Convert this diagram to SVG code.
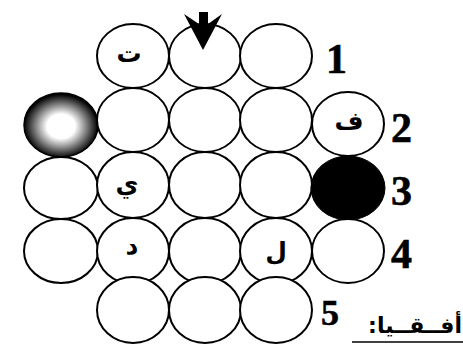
<svg xmlns="http://www.w3.org/2000/svg" width="463" height="344" viewBox="0 0 463 344">
<style>
.c{fill:#fff;stroke:#000;stroke-width:2}
.ar{font-family:"DejaVu Sans",sans-serif;font-weight:bold;font-size:25px;fill:#000;text-anchor:middle}
.num{font-family:"Liberation Serif",serif;font-weight:bold;font-size:42px;fill:#000;stroke:#000;stroke-width:0.6}
</style>
<defs>
<radialGradient id="ball" cx="0.5" cy="0.52" r="0.5">
<stop offset="0" stop-color="#fff"/>
<stop offset="0.38" stop-color="#fff"/>
<stop offset="1" stop-color="#000"/>
</radialGradient>
</defs>
<rect width="463" height="344" fill="#fff"/>
<g id="r1c2"><ellipse class="c" cx="133" cy="56" rx="36" ry="32"/><text class="ar" x="129" y="62">ت</text></g>
<g id="r1c3"><ellipse class="c" cx="205" cy="56" rx="36" ry="32"/></g>
<g id="r1c4"><ellipse class="c" cx="276" cy="56" rx="36" ry="32"/></g>
<g id="r2c1"><ellipse cx="61" cy="125" rx="37" ry="32" fill="url(#ball)" stroke="#000" stroke-width="1.5"/></g>
<g id="r2c2"><ellipse class="c" cx="133" cy="120" rx="36" ry="32"/></g>
<g id="r2c3"><ellipse class="c" cx="205" cy="120" rx="36" ry="32"/></g>
<g id="r2c4"><ellipse class="c" cx="276" cy="120" rx="36" ry="32"/></g>
<g id="r2c5"><ellipse class="c" cx="348" cy="124" rx="36" ry="32"/><text class="ar" x="349" y="130">ف</text></g>
<g id="r3c1"><ellipse class="c" cx="61" cy="188" rx="37" ry="31"/></g>
<g id="r3c2"><ellipse class="c" cx="133" cy="185" rx="36" ry="33"/><text class="ar" x="127" y="192">ي</text></g>
<g id="r3c3"><ellipse class="c" cx="205" cy="185" rx="36" ry="33"/></g>
<g id="r3c4"><ellipse class="c" cx="276" cy="185" rx="36" ry="33"/></g>
<g id="r3c5"><ellipse cx="348" cy="188" rx="37" ry="32" fill="#000" stroke="#000" stroke-width="1"/></g>
<g id="r4c1"><ellipse class="c" cx="61" cy="251" rx="37" ry="32"/></g>
<g id="r4c2"><ellipse class="c" cx="133" cy="251" rx="36" ry="33"/><text class="ar" x="132" y="254">د</text></g>
<g id="r4c3"><ellipse class="c" cx="205" cy="251" rx="36" ry="33"/></g>
<g id="r4c4"><ellipse class="c" cx="276" cy="251" rx="36" ry="33"/><text class="ar" x="276" y="260">ل</text></g>
<g id="r4c5"><ellipse class="c" cx="348" cy="251" rx="36" ry="32"/></g>
<g id="r5c2"><ellipse class="c" cx="133" cy="310" rx="36" ry="33"/></g>
<g id="r5c3"><ellipse class="c" cx="205" cy="310" rx="36" ry="33"/></g>
<g id="r5c4"><ellipse class="c" cx="276" cy="310" rx="36" ry="33"/></g>
<g id="labels">
<text class="num" x="326" y="73">1</text>
<text class="num" x="391" y="142">2</text>
<text class="num" x="391" y="205">3</text>
<text class="num" x="391" y="268">4</text>
<text class="num" x="321" y="325" style="font-size:36px">5</text>
<text x="462" y="333" direction="rtl" text-anchor="start" style="font-family:'DejaVu Sans',sans-serif;font-weight:bold;font-size:22px">أفــقــيا:</text>
<line x1="352" y1="342" x2="463" y2="342" stroke="#000" stroke-width="1.5"/>
</g>
<g id="connectors">
<polygon points="199,12 208,12 208,24 222,14 203,50 184,14 199,24" fill="#000"/>
</g>
</svg>
